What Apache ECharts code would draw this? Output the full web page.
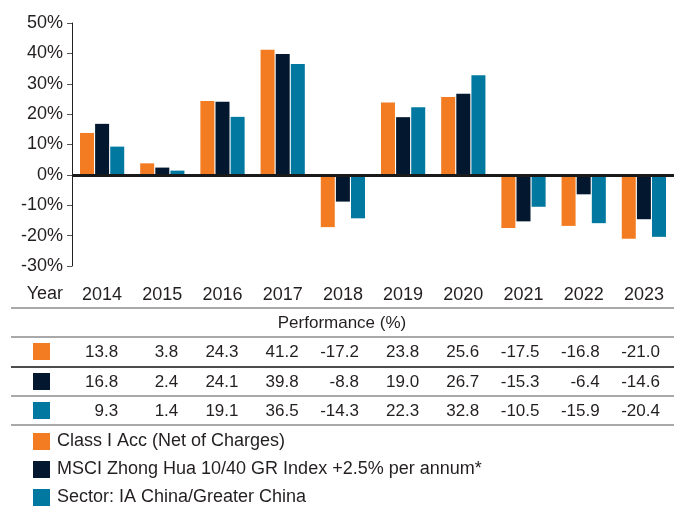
<!DOCTYPE HTML>
<html>
<head>
    <meta charset="utf-8">
    <title>Performance</title>
    <script src="https://cdn.jsdelivr.net/npm/echarts@6/dist/echarts.min.js"></script>
    <style>
        html, body { margin: 0; padding: 0; background: #fff; }
        #container { width: 674px; height: 506px; }
    </style>
</head>
<body>
<div id="container"></div>
<script>
    var years = ['2014','2015','2016','2017','2018','2019','2020','2021','2022','2023'];
    var fundVals = [13.8, 3.8, 24.3, 41.2, -17.2, 23.8, 25.6, -17.5, -16.8, -21.0];
    var indexVals = [16.8, 2.4, 24.1, 39.8, -8.8, 19.0, 26.7, -15.3, -6.4, -14.6];
    var sectorVals = [9.3, 1.4, 19.1, 36.5, -14.3, 22.3, 32.8, -10.5, -15.9, -20.4];
    var seriesNames = ['Class I Acc (Net of Charges)', 'MSCI Zhong Hua 10/40 GR Index +2.5% per annum*', 'Sector: IA China/Greater China'];
    var colors = ['#F37C22', '#03182E', '#0078A0'];

    var font = 'Liberation Sans, Arial, Helvetica, sans-serif';
    var textColor = '#231f20';

    var dom = document.getElementById('container');
    var myChart = echarts.init(dom);

    function barSeries(name, data, color, withZero) {
        var s = {
            name: name,
            type: 'bar',
            data: data,
            barWidth: 14,
            barGap: '8%',
            itemStyle: { color: color },
            animation: false
        };
        if (withZero) {
            // thick zero line across the plot
            s.markLine = {
                silent: true,
                symbol: 'none',
                label: { show: false },
                lineStyle: { color: '#1a1a1a', width: 3, type: 'solid' },
                data: [{ yAxis: 0 }],
                z: 5
            };
        }
        return s;
    }

    var option = {
        animation: false,
        grid: { left: 72, right: -3, top: 23, bottom: 240 },
        xAxis: {
            type: 'category',
            data: years,
            axisLine: { show: false },
            axisTick: { show: false },
            axisLabel: { margin: 20, fontSize: 18, color: textColor, fontFamily: font }
        },
        yAxis: {
            type: 'value',
            min: -30,
            max: 50,
            interval: 10,
            splitLine: { show: false },
            axisLine: { show: true, lineStyle: { color: '#222', width: 1 } },
            axisTick: { show: true, length: 5, lineStyle: { color: '#555' } },
            axisLabel: { margin: 9, fontSize: 18, color: textColor, fontFamily: font, formatter: '{value}%' }
        },
        series: [
            barSeries(seriesNames[0], fundVals, colors[0], true),
            barSeries(seriesNames[1], indexVals, colors[1], false),
            barSeries(seriesNames[2], sectorVals, colors[2], false)
        ]
    };
    myChart.setOption(option, true);

    // table + legend under the chart
    var rows = [fundVals, indexVals, sectorVals];
    var rowY = [352, 382, 411];
    var g = [];
    g.push({ type: 'text', style: { text: 'Year', x: 63, y: 294, align: 'right', verticalAlign: 'middle', fontSize: 18, fill: textColor, fontFamily: font } });
    g.push({ type: 'text', style: { text: 'Performance (%)', x: 342, y: 323, align: 'center', verticalAlign: 'middle', fontSize: 17, fill: textColor, fontFamily: font } });
    var lines = [[308, '#8c8c8c'], [337, '#8c8c8c'], [367, '#111'], [396, '#8c8c8c'], [425, '#8c8c8c']];
    lines.forEach(function (l) {
        g.push({ type: 'line', shape: { x1: 11, y1: l[0], x2: 674, y2: l[0] }, style: { stroke: l[1], lineWidth: 1.5 } });
    });
    rows.forEach(function (vals, r) {
        g.push({ type: 'rect', shape: { x: 33, y: rowY[r] - 9, width: 17, height: 17 }, style: { fill: colors[r] } });
        vals.forEach(function (v, i) {
            var cx = myChart.convertToPixel({ xAxisIndex: 0 }, years[i]);
            g.push({ type: 'text', style: { text: v.toFixed(1), x: cx + 16, y: rowY[r], align: 'right', verticalAlign: 'middle', fontSize: 17, fill: textColor, fontFamily: font } });
        });
    });
    var legY = [441, 469, 497];
    seriesNames.forEach(function (n, i) {
        g.push({ type: 'rect', shape: { x: 33, y: legY[i] - 8, width: 17, height: 17 }, style: { fill: colors[i] } });
        g.push({ type: 'text', style: { text: n, x: 57, y: legY[i], align: 'left', verticalAlign: 'middle', fontSize: 18, fill: textColor, fontFamily: font } });
    });
    myChart.setOption({ graphic: g });
</script>
</body>
</html>
